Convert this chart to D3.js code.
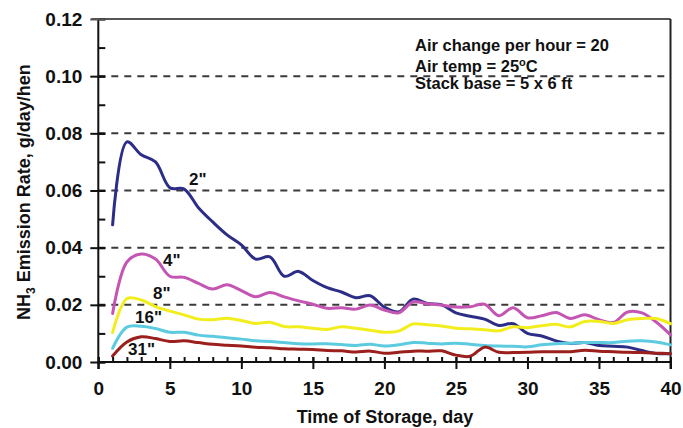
<!DOCTYPE html>
<html><head><meta charset="utf-8">
<script src="https://cdn.jsdelivr.net/npm/d3@7"></script>
<style>
html,body{margin:0;padding:0;background:#fff;}
svg{display:block;font-family:"Liberation Sans",Arial,sans-serif;font-weight:bold;}
</style></head>
<body><svg id="c" width="683" height="428"></svg>
<script>
const days = d3.range(1, 41);
const s2 = [0.048,0.077,0.0725,0.070,0.061,0.0605,0.054,0.049,0.0445,0.041,0.036,0.0368,0.030,0.0317,0.0285,0.026,0.0245,0.0225,0.0232,0.0192,0.0175,0.022,0.0205,0.020,0.0172,0.016,0.015,0.0128,0.0134,0.0100,0.0091,0.0074,0.0065,0.0068,0.0058,0.0055,0.0052,0.0040,0.0030,0.0029];
const s4 = [0.017,0.035,0.0378,0.0360,0.030,0.0296,0.0275,0.0255,0.027,0.025,0.0228,0.0243,0.0228,0.0214,0.0202,0.0188,0.019,0.0185,0.0199,0.0182,0.0172,0.021,0.0204,0.0199,0.0192,0.0193,0.0202,0.0162,0.019,0.0155,0.0162,0.0173,0.0152,0.0165,0.0148,0.0138,0.0175,0.0172,0.0140,0.0095];
const s8 = [0.0103,0.0222,0.0217,0.0194,0.0178,0.0165,0.015,0.0148,0.0153,0.0145,0.0135,0.0139,0.0124,0.0123,0.0118,0.0114,0.0123,0.0118,0.0111,0.0104,0.0108,0.0133,0.013,0.0126,0.0118,0.0116,0.0113,0.0109,0.0123,0.012,0.0127,0.0132,0.0123,0.0142,0.0142,0.0135,0.0148,0.0152,0.0152,0.0134];
const s16 = [0.0048,0.0122,0.0125,0.0117,0.0104,0.0104,0.0094,0.009,0.0085,0.008,0.0074,0.0072,0.0068,0.0064,0.0063,0.0064,0.0061,0.0058,0.0062,0.0056,0.0060,0.0068,0.0066,0.0063,0.0066,0.0062,0.0058,0.0056,0.0055,0.0053,0.0060,0.0064,0.0066,0.0068,0.0068,0.0068,0.0073,0.0074,0.0070,0.0060];
const s31 = [0.0021,0.0070,0.0088,0.0082,0.0072,0.0074,0.0068,0.0062,0.0059,0.0056,0.0052,0.0050,0.0046,0.0045,0.0044,0.0040,0.0039,0.0035,0.0038,0.0031,0.0034,0.0038,0.0038,0.0039,0.0024,0.0020,0.0052,0.0034,0.0033,0.0034,0.0036,0.0036,0.0036,0.0041,0.0038,0.0036,0.0034,0.0033,0.0031,0.0029];
const seriesNames = ['2"', '4"', '8"', '16"', '31"'];
const seriesValues = [s2, s4, s8, s16, s31];
const seriesColors = ['#2b2d86', '#c455b2', '#f2ee1e', '#5ccbe0', '#9b1f1c'];
const labelPos = [[6.34,0.0619],[4.52,0.0336],[3.83,0.0220],[2.57,0.01365],[2.08,0.00245]];
const xTicks = [0,5,10,15,20,25,30,35,40];
const yTicks = [0,0.02,0.04,0.06,0.08,0.10,0.12];
const notes = ['Air change per hour = 20', 'Air temp = 25', 'Stack base = 5 x 6 ft'];

const svg = d3.select('#c');
const x = d3.scaleLinear().domain([0,40]).range([98.3,670.5]);
const y = d3.scaleLinear().domain([0,0.12]).range([362,19]);

// grid dashed lines
svg.append('g').selectAll('line').data(yTicks.slice(1,6)).join('line')
  .attr('x1', x(0)).attr('x2', x(40)).attr('y1', d=>y(d)).attr('y2', d=>y(d))
  .attr('stroke', '#3a3a3a').attr('stroke-width', 2).attr('stroke-dasharray', '7,6');

// top and right frame
svg.append('line').attr('x1', x(0)-7).attr('x2', x(40)).attr('y1', y(0.12)).attr('y2', y(0.12))
  .attr('stroke', '#555').attr('stroke-width', 2);
svg.append('line').attr('x1', x(40)).attr('x2', x(40)).attr('y1', y(0.12)).attr('y2', y(0)+7)
  .attr('stroke', '#222').attr('stroke-width', 2);

// series
const line = d3.line().x((d,i)=>x(days[i])).y(d=>y(d)).curve(d3.curveCatmullRom.alpha(0.5));
svg.append('g').selectAll('path').data(seriesValues).join('path')
  .attr('d', d=>line(d)).attr('fill','none')
  .attr('stroke', (d,i)=>seriesColors[i]).attr('stroke-width', 3)
  .attr('stroke-linejoin','round').attr('stroke-linecap','round');

// axes
const xAxisMinor = d3.axisBottom(x).tickValues(d3.range(0,41)).tickSize(-5).tickFormat('');
const gxm = svg.append('g').attr('transform', `translate(0,${y(0)})`).call(xAxisMinor);
gxm.select('.domain').remove();
const xAxis = d3.axisBottom(x).tickValues(xTicks).tickSize(7).tickPadding(13).tickFormat(d3.format('d'));
const gx = svg.append('g').attr('transform', `translate(0,${y(0)})`).call(xAxis);
gx.select('.domain').attr('d', `M${x(0)},0H${x(40)}`);
gx.selectAll('.tick line').attr('y1', -5);
const yAxisMinor = d3.axisLeft(y).tickValues(d3.range(0,13).map(d=>d/100)).tickSize(-7).tickFormat('');
const gym = svg.append('g').attr('transform', `translate(${x(0)},0)`).call(yAxisMinor);
gym.select('.domain').remove();
const yAxis = d3.axisLeft(y).tickValues(yTicks).tickSize(8).tickPadding(8).tickFormat(d3.format('.2f'));
const gy = svg.append('g').attr('transform', `translate(${x(0)},0)`).call(yAxis);
gy.select('.domain').attr('d', `M0,${y(0.12)}V${y(0)+7}`);
gy.selectAll('.tick line').attr('x2', 7).attr('x1', -8);
[gx, gy, gxm, gym].forEach(g=>{
  g.selectAll('line,path').attr('stroke','#111').attr('stroke-width',2);
  g.selectAll('text').attr('fill','#111').style('font-size','19px').style('font-weight','bold')
   .style('font-family','"Liberation Sans",Arial,sans-serif');
});
gy.selectAll('.tick').filter(d=>d===0.12).select('line').attr('stroke','#555');

// labels on curves
svg.append('g').selectAll('text').data(seriesNames).join('text')
  .attr('x',(d,i)=>x(labelPos[i][0])).attr('y',(d,i)=>y(labelPos[i][1]))
  .attr('fill','#111').style('font-size','17px').text(d=>d);

// notes
const nt = svg.append('g').style('font-size','16.5px').attr('fill','#111');
nt.append('text').attr('x',415).attr('y',51).text(notes[0]);
const t2 = nt.append('text').attr('x',415).attr('y',71.5);
t2.append('tspan').text(notes[1]);
t2.append('tspan').attr('dy',-6).style('font-size','11px').text('o');
t2.append('tspan').attr('dy',6).text('C');
nt.append('text').attr('x',415).attr('y',89).text(notes[2]);

// axis titles
svg.append('text').attr('x', 385).attr('y', 423).attr('text-anchor','middle')
  .style('font-size','18px').attr('fill','#111').text('Time of Storage, day');
const yt = svg.append('text').attr('transform','translate(30,192) rotate(-90)')
  .attr('text-anchor','middle').style('font-size','18px').attr('fill','#111');
yt.append('tspan').text('NH');
yt.append('tspan').attr('dy',5).style('font-size','12px').text('3');
yt.append('tspan').attr('dy',-5).text(' Emission Rate, g/day/hen');
</script></body></html>
